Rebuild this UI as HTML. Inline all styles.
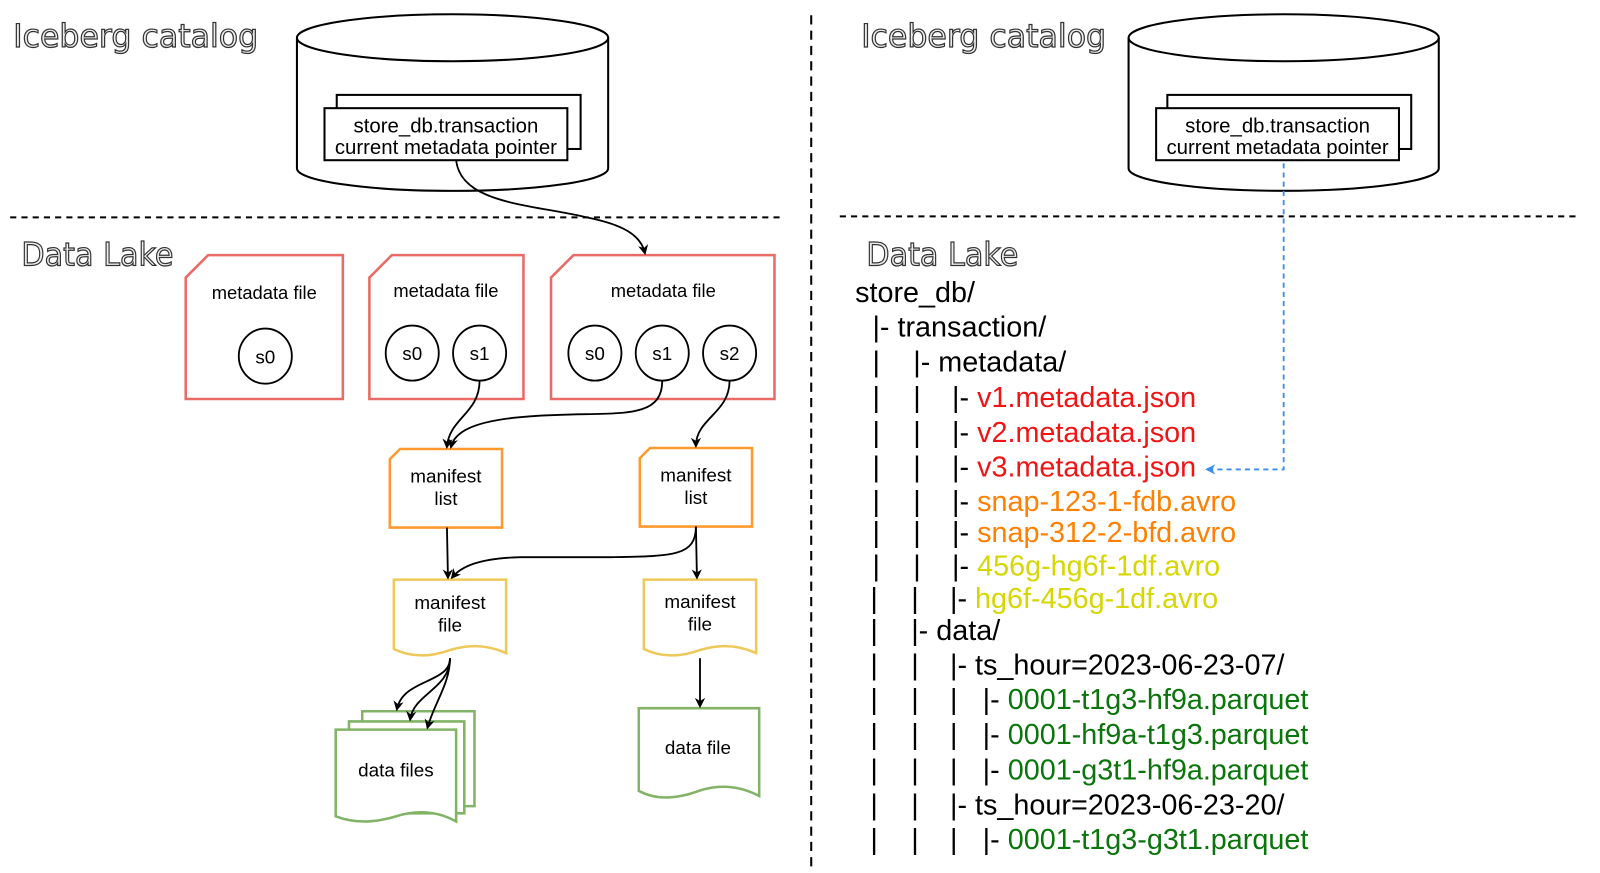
<!DOCTYPE html>
<html><head><meta charset="utf-8"><style>
html,body{margin:0;padding:0;background:#fff;}
svg{display:block;}
text{font-family:"Liberation Sans",Arial,sans-serif;}
.t{font-size:28.2px;fill:#000;}
.h{font-size:31px;fill:#eee;stroke:#333;stroke-width:1.2;font-family:"DejaVu Sans",sans-serif;}
</style></head><body>
<svg width="1600" height="873" viewBox="0 0 1568 855.5" preserveAspectRatio="none" xmlns="http://www.w3.org/2000/svg">
<defs>
<marker id="a" markerWidth="10" markerHeight="10" refX="8" refY="5" orient="auto" markerUnits="userSpaceOnUse"><path d="M0,0 L10,5 L0,10 L3,5 z" fill="#000"/></marker>
<marker id="b" markerWidth="10" markerHeight="10" refX="8" refY="5" orient="auto" markerUnits="userSpaceOnUse"><path d="M0,0 L10,5 L0,10 L3,5 z" fill="#3b8df0"/></marker>
</defs>
<line x1="10" y1="213" x2="768" y2="213" stroke="#000" stroke-width="2" stroke-dasharray="6,5"/>
<line x1="823" y1="212" x2="1548" y2="212" stroke="#000" stroke-width="2" stroke-dasharray="6,5"/>
<line x1="795" y1="15" x2="795" y2="852" stroke="#000" stroke-width="2" stroke-dasharray="9,6"/>
<text x="13" y="46" class="h" textLength="240" lengthAdjust="spacingAndGlyphs">Iceberg catalog</text>
<text x="21" y="260" class="h" textLength="149" lengthAdjust="spacingAndGlyphs">Data Lake</text>
<text x="844" y="46" class="h" textLength="240" lengthAdjust="spacingAndGlyphs">Iceberg catalog</text>
<text x="849" y="260" class="h" textLength="149" lengthAdjust="spacingAndGlyphs">Data Lake</text>
<g fill="none" stroke="#000" stroke-width="2">
<path d="M291,37 L291,165 A152,22 0 0 0 596,165 L596,37"/>
<ellipse cx="443.5" cy="37" rx="152.5" ry="23"/>
<path d="M1106,37 L1106,165 A152,22 0 0 0 1410,165 L1410,37"/>
<ellipse cx="1258" cy="37" rx="152" ry="23"/>
</g>
<g fill="#fff" stroke="#000" stroke-width="2">
<rect x="330" y="93" width="239" height="53"/>
<rect x="318" y="106" width="238" height="51"/>
<rect x="1144" y="93" width="239" height="53"/>
<rect x="1133" y="106" width="238" height="51"/>
</g>
<g font-size="20" text-anchor="middle">
<text x="437" y="130">store_db.transaction</text>
<text x="437" y="151">current metadata pointer</text>
<text x="1252" y="130">store_db.transaction</text>
<text x="1252" y="151">current metadata pointer</text>
</g>
<g fill="#fff" stroke="#ea6b66" stroke-width="2.5">
<path d="M182,272 L204,250 L336,250 L336,391 L182,391 Z"/>
<path d="M362,272 L384,250 L513,250 L513,391 L362,391 Z"/>
<path d="M540,272 L562,250 L759,250 L759,391 L540,391 Z"/>
</g>
<g font-size="18" text-anchor="middle">
<text x="259" y="293">metadata file</text>
<text x="437" y="291">metadata file</text>
<text x="650" y="291">metadata file</text>
</g>
<g fill="#fff" stroke="#000" stroke-width="1.8">
<ellipse cx="260" cy="349" rx="26" ry="27"/>
<ellipse cx="404" cy="346" rx="26" ry="27"/>
<ellipse cx="470" cy="346" rx="26" ry="27"/>
<ellipse cx="583" cy="346" rx="26" ry="27"/>
<ellipse cx="649" cy="346" rx="26" ry="27"/>
<ellipse cx="715" cy="346" rx="26" ry="27"/>
</g>
<g font-size="18.5" text-anchor="middle">
<text x="260" y="356">s0</text>
<text x="404" y="353">s0</text>
<text x="470" y="353">s1</text>
<text x="583" y="353">s0</text>
<text x="649" y="353">s1</text>
<text x="715" y="353">s2</text>
</g>
<g fill="#fff" stroke="#ff9a2e" stroke-width="2.5">
<path d="M382,450 L392,440 L492,440 L492,517 L382,517 Z"/>
<path d="M627,449 L637,439 L737,439 L737,516 L627,516 Z"/>
</g>
<g font-size="18.5" text-anchor="middle">
<text x="437" y="473">manifest</text><text x="437" y="495">list</text>
<text x="682" y="472">manifest</text><text x="682" y="494">list</text>
</g>
<g fill="#fff" stroke="#eec95a" stroke-width="2.5">
<path d="M386,568 L496,568 L496,640 Q470,628 441,637 Q410,648 386,636 Z"/>
<path d="M631,568 L741,568 L741,640 Q715,628 686,637 Q655,648 631,636 Z"/>
</g>
<g font-size="18.5" text-anchor="middle">
<text x="441" y="597">manifest</text><text x="441" y="619">file</text>
<text x="686" y="596">manifest</text><text x="686" y="618">file</text>
</g>
<g fill="#fff" stroke="#82b366" stroke-width="2.5">
<path d="M355,697 L465,697 L465,790 L355,790 Z"/>
<path d="M342,707 L455,707 L455,797 L342,797 Z"/>
<path d="M329,715 L447,715 L447,805 Q420,790 388,800 Q355,810 329,800 Z"/>
<path d="M626,694 L744,694 L744,780 Q715,765 685,775 Q650,788 626,775 Z"/>
</g>
<g font-size="18.5" text-anchor="middle">
<text x="388" y="761">data files</text>
<text x="684" y="739">data file</text>
</g>
<g fill="none" stroke="#000" stroke-width="1.8" marker-end="url(#a)">
<path d="M447,157 C452,200 520,200 575,213 C610,220 628,230 632,248"/>
<path d="M470,373 C470,405 440,410 438,438"/>
<path d="M649,373 C649,415 600,402 520,408 C460,412 445,425 442,438"/>
<path d="M715,373 C715,405 682,410 682,437"/>
<path d="M438,517 L439,566"/>
<path d="M682,516 C682,545 660,545 600,546 L510,546 C470,547 452,555 443,566"/>
<path d="M682,516 L683,566"/>
<path d="M441,645 C441,670 395,665 389,695"/>
<path d="M441,645 C441,675 405,680 402,705"/>
<path d="M441,645 C441,670 425,690 419,713"/>
<path d="M686,645 L686,692"/>
</g>
<path d="M1258,160 L1258,460 L1183,460" fill="none" stroke="#3b8df0" stroke-width="1.8" stroke-dasharray="5,4" marker-end="url(#b)"/>
<g class="t">
<text x="838" y="296">store_db/</text>
<text x="855" y="330">|- transaction/</text>
<text x="855" y="364">|</text><text x="895" y="364">|- metadata/</text>
<text x="855" y="399">|</text><text x="895" y="399">|</text><text x="933" y="399">|- <tspan fill="#f01414">v1.metadata.json</tspan></text>
<text x="855" y="433">|</text><text x="895" y="433">|</text><text x="933" y="433">|- <tspan fill="#f01414">v2.metadata.json</tspan></text>
<text x="855" y="467">|</text><text x="895" y="467">|</text><text x="933" y="467">|- <tspan fill="#f01414">v3.metadata.json</tspan></text>
<text x="855" y="501">|</text><text x="895" y="501">|</text><text x="933" y="501">|- <tspan fill="#ff8000">snap-123-1-fdb.avro</tspan></text>
<text x="855" y="531">|</text><text x="895" y="531">|</text><text x="933" y="531">|- <tspan fill="#ff8000">snap-312-2-bfd.avro</tspan></text>
<text x="855" y="564">|</text><text x="895" y="564">|</text><text x="933" y="564">|- <tspan fill="#d6d600">456g-hg6f-1df.avro</tspan></text>
<text x="853" y="596">|</text><text x="893" y="596">|</text><text x="931" y="596">|- <tspan fill="#d6d600">hg6f-456g-1df.avro</tspan></text>
<text x="853" y="627">|</text><text x="893" y="627">|- data/</text>
<text x="853" y="661">|</text><text x="893" y="661">|</text><text x="931" y="661">|- ts_hour=2023-06-23-07/</text>
<text x="853" y="695">|</text><text x="893" y="695">|</text><text x="931" y="695">|</text><text x="963" y="695">|- <tspan fill="#0a750a">0001-t1g3-hf9a.parquet</tspan></text>
<text x="853" y="729">|</text><text x="893" y="729">|</text><text x="931" y="729">|</text><text x="963" y="729">|- <tspan fill="#0a750a">0001-hf9a-t1g3.parquet</tspan></text>
<text x="853" y="764">|</text><text x="893" y="764">|</text><text x="931" y="764">|</text><text x="963" y="764">|- <tspan fill="#0a750a">0001-g3t1-hf9a.parquet</tspan></text>
<text x="853" y="798">|</text><text x="893" y="798">|</text><text x="931" y="798">|- ts_hour=2023-06-23-20/</text>
<text x="853" y="832">|</text><text x="893" y="832">|</text><text x="931" y="832">|</text><text x="963" y="832">|- <tspan fill="#0a750a">0001-t1g3-g3t1.parquet</tspan></text>
</g>
</svg>
</body></html>
